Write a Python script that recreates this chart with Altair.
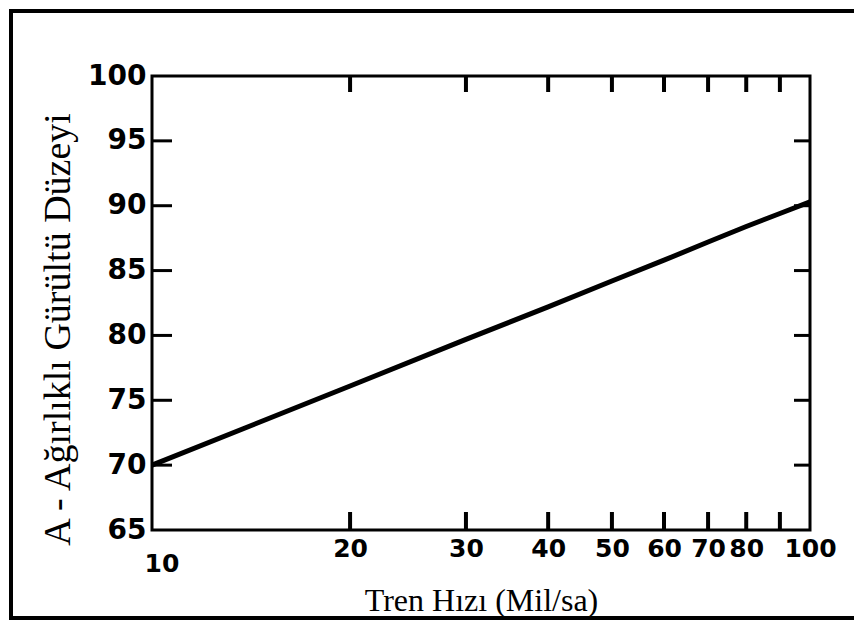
import altair as alt
import pandas as pd

# Data
speed = [10, 20, 30, 40, 50, 60, 70, 80, 90, 100]
level = [70.0, 76.1, 79.7, 82.2, 84.2, 85.8, 87.2, 88.4, 89.4, 90.3]

x_tick_labels = [20, 30, 40, 50, 60, 70, 80, 100]
x_first_label = [10]
x_inner_ticks = [20, 30, 40, 50, 60, 70, 80, 90]
y_tick_labels = [65, 70, 75, 80, 85, 90, 95, 100]
y_inner_ticks = [70, 75, 80, 85, 90, 95]

W, H = 658, 454

line_df = pd.DataFrame({"speed": speed, "level": level})
xt_df = pd.DataFrame({"speed": x_inner_ticks})
yt_df = pd.DataFrame({"level": y_inner_ticks})
x0_df = pd.DataFrame({"speed": x_first_label, "label": [str(v) for v in x_first_label]})
one = pd.DataFrame({"a": [0]})

label_font = "DejaVu Sans"
title_font = "Liberation Serif"

xscale = alt.Scale(type="log", domain=[10, 100], nice=False)
yscale = alt.Scale(domain=[65, 100], nice=False, zero=False)

xaxis = alt.Axis(
    values=x_tick_labels, tickSize=0, domain=False, grid=False,
    labelFont=label_font, labelFontSize=25, labelFontWeight="bold",
    labelColor="black", labelPadding=6, labelFlush=False, labelOverlap=False,
    title="Tren Hızı (Mil/sa)", titleFont=title_font, titleFontSize=32,
    titleFontWeight="normal", titleColor="black", titlePadding=24,
)
yaxis = alt.Axis(
    values=y_tick_labels, tickSize=0, domain=False, grid=False,
    labelFont=label_font, labelFontSize=28, labelFontWeight="bold",
    labelColor="black", labelPadding=6, labelFlush=False, labelOverlap=False,
    title="A - Ağırlıklı Gürültü Düzeyi", titleFont=title_font,
    titleFontSize=38, titleFontWeight="normal", titleColor="black",
    titlePadding=10, titleY=H / 2 + 26,
)

line = alt.Chart(line_df).mark_line(color="black", strokeWidth=5).encode(
    x=alt.X("speed:Q", scale=xscale, axis=xaxis),
    y=alt.Y("level:Q", scale=yscale, axis=yaxis),
)

first_label = alt.Chart(x0_df).mark_text(
    font=label_font, fontSize=25, fontWeight="bold", color="black",
    align="center", baseline="middle", dx=10
).encode(
    x=alt.X("speed:Q", scale=xscale), y=alt.value(H + 34), text="label:N"
)

bottom_ticks = alt.Chart(xt_df).mark_rule(color="black", strokeWidth=4).encode(
    x=alt.X("speed:Q", scale=xscale), y=alt.value(H), y2=alt.value(H - 18)
)
top_ticks = alt.Chart(xt_df).mark_rule(color="black", strokeWidth=4).encode(
    x=alt.X("speed:Q", scale=xscale), y=alt.value(0), y2=alt.value(16)
)
left_ticks = alt.Chart(yt_df).mark_rule(color="black", strokeWidth=3).encode(
    y=alt.Y("level:Q", scale=yscale), x=alt.value(0), x2=alt.value(20)
)
right_ticks = alt.Chart(yt_df).mark_rule(color="black", strokeWidth=3).encode(
    y=alt.Y("level:Q", scale=yscale), x=alt.value(W), x2=alt.value(W - 16)
)

# page frame: top, left and bottom edges only (no right edge in the reference)
frame_top = alt.Chart(one).mark_rule(color="black", strokeWidth=4).encode(
    x=alt.value(-143), x2=alt.value(704), y=alt.value(-65)
)
frame_left = alt.Chart(one).mark_rule(color="black", strokeWidth=4).encode(
    x=alt.value(-141), y=alt.value(-67), y2=alt.value(544)
)
frame_bottom = alt.Chart(one).mark_rule(color="black", strokeWidth=4).encode(
    x=alt.value(-143), x2=alt.value(704), y=alt.value(542)
)

chart = alt.layer(
    frame_top, frame_left, frame_bottom, line, first_label,
    bottom_ticks, top_ticks, left_ticks, right_ticks
).properties(
    width=W, height=H,
    autosize=alt.AutoSizeParams(type="none"),
    padding={"left": 144, "top": 68, "right": 44, "bottom": 90},
).configure(background="white").configure_view(stroke="black", strokeWidth=3)

chart.save("out.html", embed_options={"renderer": "svg", "actions": False})
